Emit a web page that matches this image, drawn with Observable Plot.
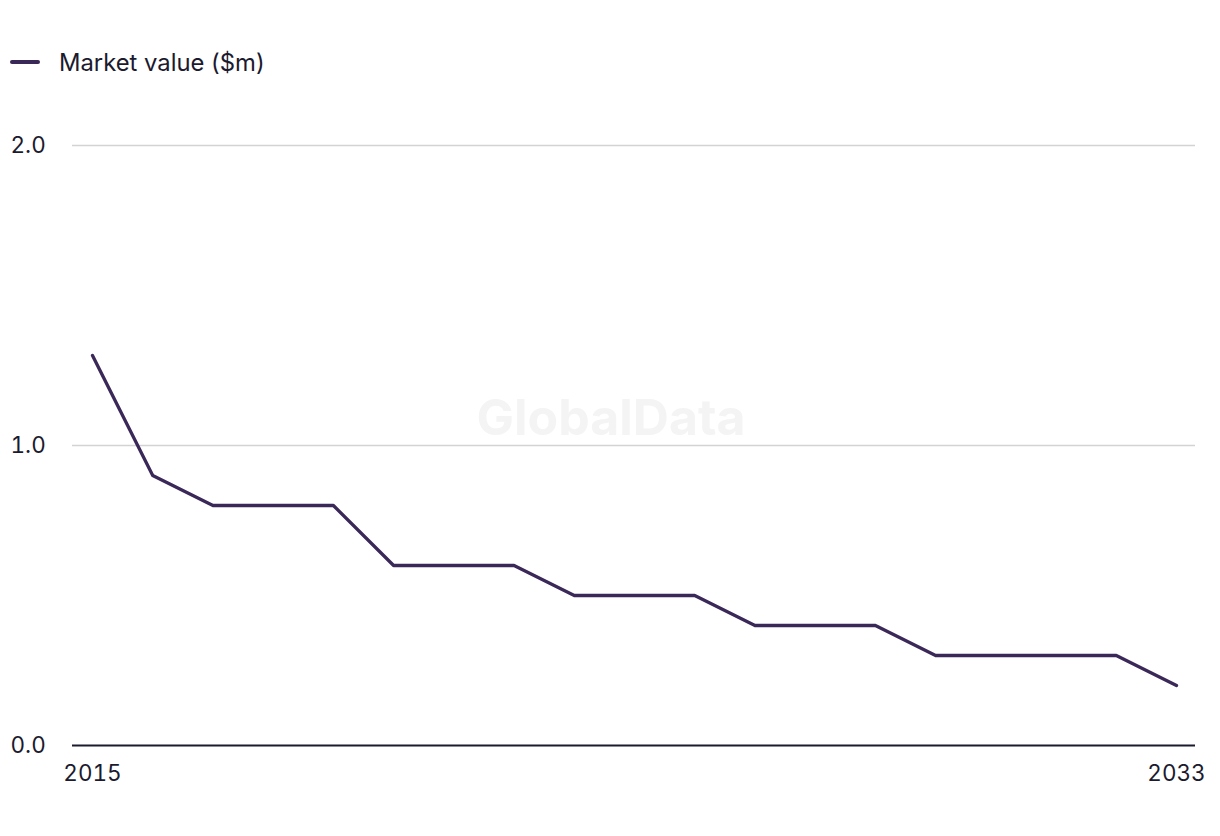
<!DOCTYPE html>
<html>
<head>
<meta charset="utf-8">
<script src="https://cdn.jsdelivr.net/npm/d3@7"></script>
<script src="https://cdn.jsdelivr.net/npm/@observablehq/plot@0.6"></script>
<style>
  html, body { margin: 0; padding: 0; background: #fff; }
  body { width: 1220px; height: 836px; position: relative; font-family: Inter, "Liberation Sans", sans-serif; color: #1b1a2e; }
  #legend { position: absolute; left: 10px; top: 46px; height: 32px; display: flex; align-items: center; font-size: 23.8px; }
  #legend .sw { width: 30px; height: 4px; border-radius: 2px; background: #3a2858; margin-right: 19px; }
  #chart { position: absolute; left: 0; top: 0; }
</style>
</head>
<body>
<div id="chart"></div>
<div id="legend"><span class="sw"></span><span>Market value ($m)</span></div>
<script>
const years = [2015,2016,2017,2018,2019,2020,2021,2022,2023,2024,2025,2026,2027,2028,2029,2030,2031,2032,2033];
const marketValue = [1.3,0.9,0.8,0.8,0.8,0.6,0.6,0.6,0.5,0.5,0.5,0.4,0.4,0.4,0.3,0.3,0.3,0.3,0.2];
const yTicks = [0, 1, 2];
const xTickLabels = [2015, 2033];
const seriesName = "Market value ($m)";
const watermark = "GlobalData";

const data = years.map((y, i) => ({year: y, value: marketValue[i]}));

const chart = Plot.plot({
  width: 1220,
  height: 836,
  marginLeft: 72,
  marginRight: 25,
  marginTop: 145,
  marginBottom: 91,
  style: { fontFamily: "Inter, 'Liberation Sans', sans-serif", fontSize: "22.5px", color: "#1b1a2e", background: "transparent" },
  x: { domain: [2015, 2033], insetLeft: 20, insetRight: 19 },
  y: { domain: [0, 2] },
  marks: [
    Plot.text([watermark], { frameAnchor: "middle", text: d => d, dx: -23, dy: -27, fontSize: 50, fontWeight: "bold", fill: "#f4f4f4" }),
    Plot.ruleY(yTicks.filter(d => d !== 0), { stroke: "#d3d3d3", strokeWidth: 1.3 }),
    Plot.axisY(yTicks, { tickSize: 0, tickPadding: 62, textAnchor: "start", tickFormat: d3.format(".1f"), label: null, fill: "#1b1a2e" }),
    Plot.axisX(xTickLabels, { tickSize: 0, tickPadding: 20, tickFormat: d => String(d), label: null, fill: "#1b1a2e" }),
    Plot.line(data, { x: "year", y: "value", stroke: "#3a2858", strokeWidth: 3.3 }),
    Plot.ruleY([0], { stroke: "#1b1a2e", strokeWidth: 2 })
  ]
});
document.getElementById("chart").appendChild(chart);
</script>
</body>
</html>
